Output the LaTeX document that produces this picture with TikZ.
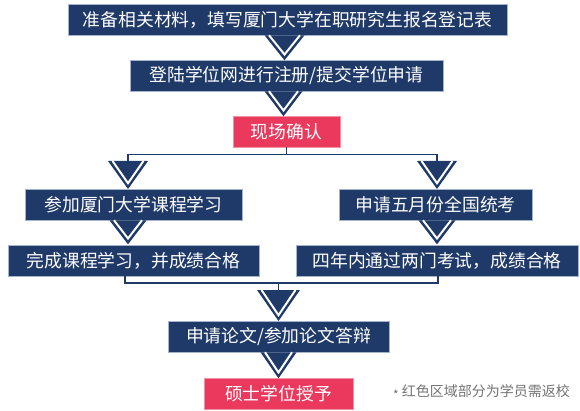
\documentclass[tikz,border=0pt]{standalone}
\usepackage{fontspec}
\setmainfont{Noto Sans CJK SC}
\usepackage{xcolor}
\definecolor{FlowBlue}{RGB}{31, 58, 105}
\definecolor{FlowRed}{RGB}{234, 57, 92}
\definecolor{FlowEdge}{RGB}{165, 180, 205}
\definecolor{NoteGray}{RGB}{115, 115, 115}
\usetikzlibrary{positioning, calc}

\begin{document}
\begin{tikzpicture}[
        x=1pt, y=-1pt,
        stepbox/.style={rectangle, draw=FlowEdge, line width=0.6pt, fill=FlowBlue, text=white, minimum height=31pt, inner sep=0pt, font=\fontsize{17.8}{20}\selectfont},
        visit/.style={stepbox, fill=FlowRed, draw=FlowRed!55!white},
        note/.style={inner sep=0pt, text=NoteGray, font=\fontsize{14}{16}\selectfont},
        link/.style={draw=FlowBlue, line width=1.4pt},
        pics/chevron/.style 2 args={code={
            \fill[FlowBlue] (-#1/2,0) -- (#1/2,0) -- (0,#2) -- cycle;
            \draw[white, line width=2pt] (-#1/2+4.5,0) -- (0,#2-5.8) -- (#1/2-4.5,0);
        }}
    ]
        \useasboundingbox (0,0) rectangle (580,411);

        % --- STEPS ---
        \node[stepbox, minimum width=439pt] (prep) at (287.5,19.5) {准备相关材料，填写厦门大学在职研究生报名登记表};
        \node[stepbox, minimum width=313pt] (apply) at (286.5,75.5) {登陆学位网进行注册/提交学位申请};
        \node[visit, minimum width=107pt] (confirm) at (286.5,131.5) {现场确认};

        % left / right tracks
        \node[stepbox, minimum width=217pt] (course) at (133.5,204.5) {参加厦门大学课程学习};
        \node[stepbox, minimum width=193pt] (exam) at (435.5,204.5) {申请五月份全国统考};
        \node[stepbox, minimum width=251pt] (coursedone) at (133.5,260.5) {完成课程学习，并成绩合格};
        \node[stepbox, minimum width=282pt] (exampass) at (437,260.5) {四年内通过两门考试，成绩合格};

        \node[stepbox, minimum width=221pt] (thesis) at (278.5,336.5) {申请论文/参加论文答辩};
        \node[visit, minimum width=149pt] (degree) at (278.5,394) {硕士学位授予};
        \node[note] (remark) at (481.5,392) {{\fontsize{12}{12}\selectfont\raisebox{-3.5pt}{*}}\ 红色区域部分为学员需返校};

        % --- CONNECTIONS ---
        \coordinate (forkL) at (128,161);
        \coordinate (forkR) at (437,161);
        \coordinate (joinL) at (125,283);
        \coordinate (joinR) at (438,283);
        \coordinate (joinC) at (278.5,290);

        \draw[link] (confirm.south) -- ++(0,7) -| (forkL);
        \draw[link] (confirm.south) -- ++(0,7) -| (forkR);
        \draw[link] (coursedone.south -| joinL) -- (joinL) -- (joinR) -- (exampass.south -| joinR);
        \draw[link] (joinL -| joinC) -- (joinC);

        % --- CHEVRONS ---
        \pic at ([xshift=-3pt]prep.south) {chevron={40}{25}};
        \pic at ([xshift=-3pt]apply.south) {chevron={38}{25}};
        \pic at (forkL) {chevron={40}{28}};
        \pic at (forkR) {chevron={40}{28}};
        \pic at (course.south -| forkL) {chevron={37}{24}};
        \pic at (exam.south -| forkR) {chevron={37}{24}};
        \pic at (joinC) {chevron={43}{31}};
        \pic at (thesis.south) {chevron={36}{26}};

    \end{tikzpicture}
\end{document}
